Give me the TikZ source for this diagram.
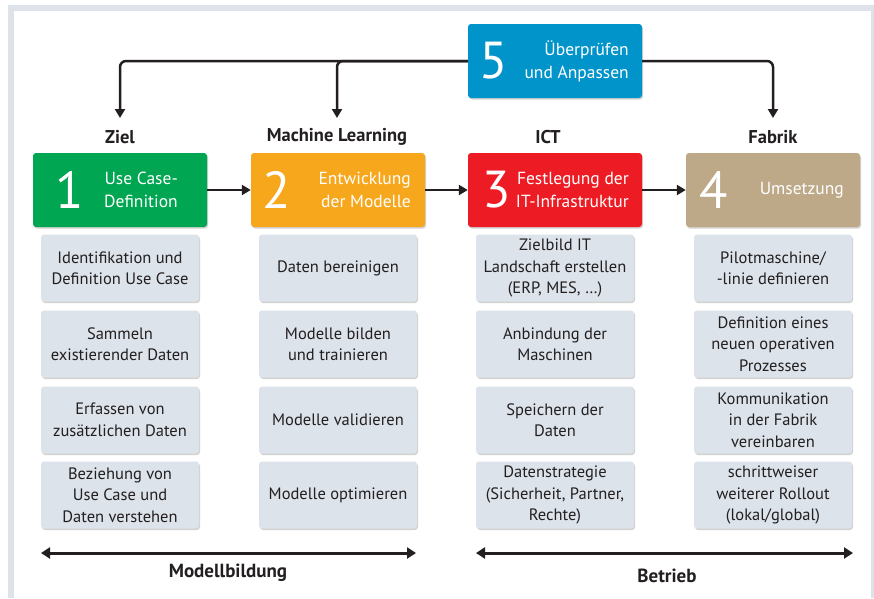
\documentclass[tikz,border=0pt]{standalone}
\usepackage{fontspec}
\setmainfont{PT Sans}
\usetikzlibrary{arrows.meta,shadows}
\definecolor{cgreen}{HTML}{00A651}
\definecolor{corange}{HTML}{F7A71C}
\definecolor{cred}{HTML}{ED1C24}
\definecolor{ctan}{HTML}{BDA888}
\definecolor{cblue}{HTML}{0094CA}
\definecolor{cgray}{HTML}{DCE3EA}
\definecolor{cframe}{HTML}{DDE3E9}
\definecolor{cdark}{HTML}{231F20}
\begin{document}
\begin{tikzpicture}[x=1pt,y=-1pt,
  shad/.style={drop shadow={opacity=0.35,shadow xshift=1pt,shadow yshift=-1.5pt}},
  phase/.style={shad,rounded corners=3pt,minimum width=174pt,minimum height=74pt,inner sep=0pt},
  task/.style={shad,fill=cgray,rounded corners=3pt,minimum width=158pt,minimum height=67pt,
    inner sep=0pt,align=center,font=\fontsize{16.5}{21.5}\selectfont,text=cdark},
  num/.style={text=white,font=\fontsize{52}{52}\selectfont,inner sep=0pt},
  ptext/.style={text=white,font=\fontsize{17.5}{23}\selectfont,align=right,anchor=east,inner sep=0pt},
  head/.style={font=\bfseries\fontsize{18.5}{20}\selectfont,text=cdark,inner sep=0pt},
  conn/.style={draw=cdark,line width=2.5pt,-{Triangle[width=10pt,length=9pt]},rounded corners=6pt},
  span/.style={draw=cdark,line width=3pt,{Triangle[width=11pt,length=9pt]}-{Triangle[width=11pt,length=9pt]}},
  foot/.style={font=\bfseries\fontsize{19}{20}\selectfont,text=cdark,inner sep=0pt},
]
\useasboundingbox (0,0) rectangle (874,598);
\fill[cframe] (8,5) rectangle (874,598);
\fill[white] (14,11) rectangle (871,598);

% phase boxes
\node[phase,fill=cblue] (n5) at (555,61) {};
\node[phase,fill=cgreen] (n1) at (120,190) {};
\node[phase,fill=corange] (n2) at (338,190) {};
\node[phase,fill=cred] (n3) at (555,190) {};
\node[phase,fill=ctan] (n4) at (773,190) {};

\node[num] (d5) at (494,61) {5};
\node[ptext] (t5) at (629,61) {Überprüfen\\und Anpassen};
\node[num] (d1) at (70,190) {1};
\node[ptext] (t1) at (178,190) {Use Case-\\Definition};
\node[num] (d2) at (277,190) {2};
\node[ptext] (t2) at (411,190) {Entwicklung\\der Modelle};
\node[num] (d3) at (497,190) {3};
\node[ptext] (t3) at (629,190) {Festlegung der\\IT-Infrastruktur};
\node[num] (d4) at (714,190) {4};
\node[ptext] (t4) at (844,190) {Umsetzung};

% headings
\node[head] (h1) at (120,137) {Ziel};
\node[head] (h2) at (337,137) {Machine Learning};
\node[head] (h3) at (548,137) {ICT};
\node[head] (h4) at (773,137) {Fabrik};

% feedback arrows
\coordinate (a1) at (120,118);
\coordinate (a2) at (337,118);
\coordinate (a4) at (773,118);
\draw[conn] (n5.west) -| (a1);
\draw[conn] (n5.west) -| (a2);
\draw[conn] (n5.east) -| (a4);

% forward arrows
\draw[conn] (n1) -- (n2);
\draw[conn] (n2) -- (n3);
\draw[conn] (n3) -- (n4);

% tasks column 1
\node[task] (g11) at (120,268) {Identifikation und\\Definition Use Case};
\node[task] (g12) at (120,344) {Sammeln\\existierender Daten};
\node[task] (g13) at (120,420) {Erfassen von\\zusätzlichen Daten};
\node[task] (g14) at (120,495) {Beziehung von\\Use Case und\\Daten verstehen};
% column 2
\node[task] (g21) at (338,268) {Daten bereinigen};
\node[task] (g22) at (338,344) {Modelle bilden\\und trainieren};
\node[task] (g23) at (338,420) {Modelle validieren};
\node[task] (g24) at (338,495) {Modelle optimieren};
% column 3
\node[task] (g31) at (555,268) {Zielbild IT\\Landschaft erstellen\\(ERP, MES, \dots)};
\node[task] (g32) at (555,344) {Anbindung der\\Maschinen};
\node[task] (g33) at (555,420) {Speichern der\\Daten};
\node[task] (g34) at (555,495) {Datenstrategie\\(Sicherheit, Partner,\\Rechte)};
% column 4
\node[task] (g41) at (773,268) {Pilotmaschine/\\-linie definieren};
\node[task] (g42) at (773,344) {Definition eines\\neuen operativen\\Prozesses};
\node[task] (g43) at (773,420) {Kommunikation\\in der Fabrik\\vereinbaren};
\node[task] (g44) at (773,495) {schrittweiser\\weiterer Rollout\\(lokal/global)};

% bottom spans
\coordinate (s1) at (41,553);
\coordinate (s2) at (416,553);
\coordinate (s3) at (476,553);
\coordinate (s4) at (853,553);
\draw[span] (s1) -- (s2);
\draw[span] (s3) -- (s4);
\node[foot] (f1) at (228,573) {Modellbildung};
\node[foot] (f2) at (667,576) {Betrieb};
\end{tikzpicture}
\end{document}
